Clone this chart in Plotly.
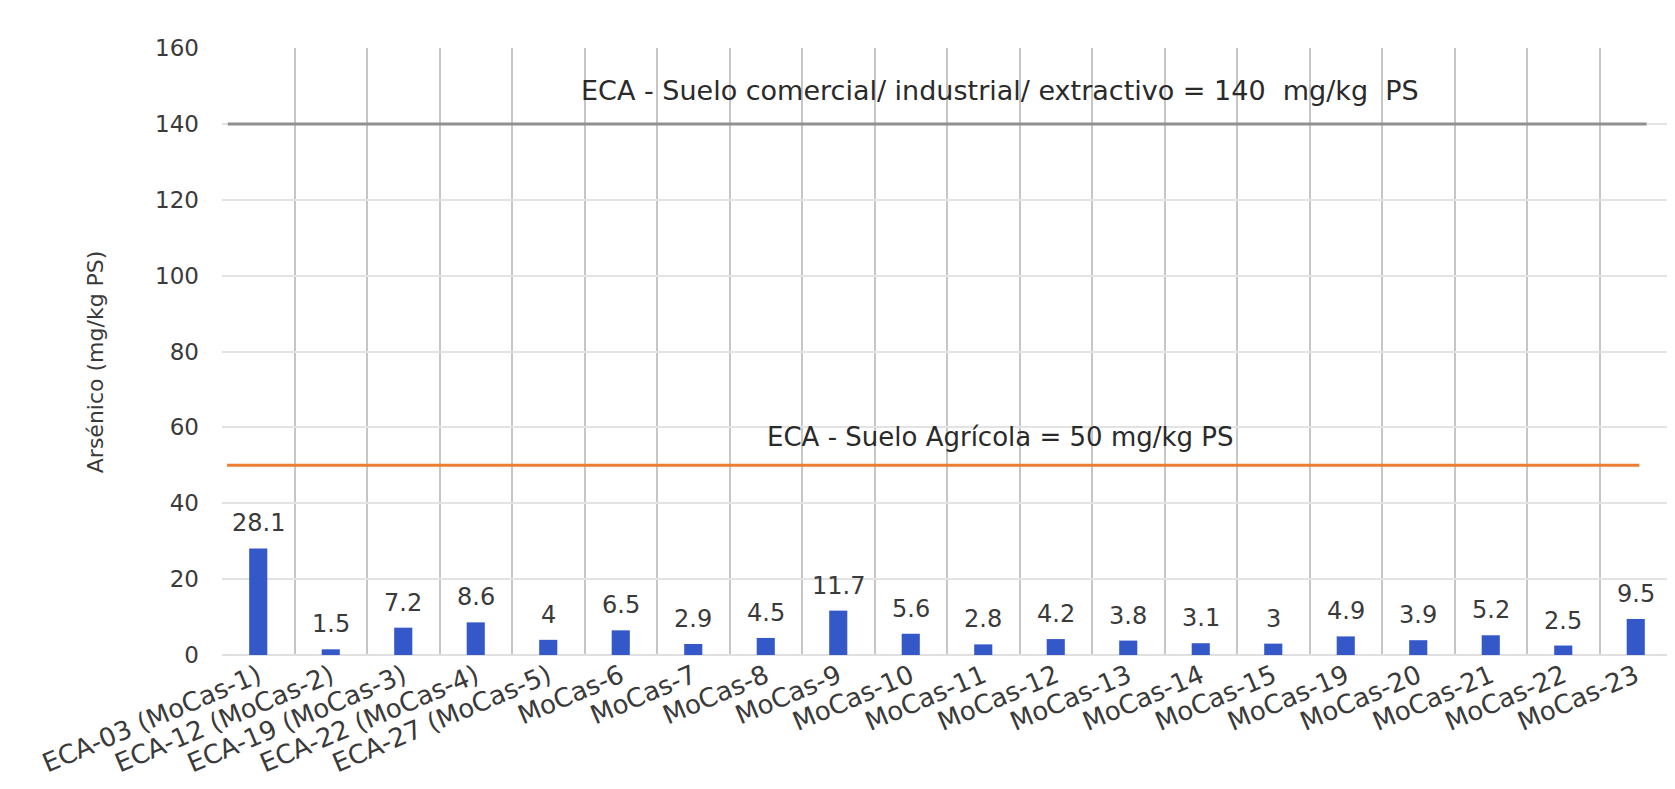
import plotly.graph_objects as go

# muestras y concentraciones de arsénico (mg/kg PS)
muestras = ['ECA-03 (MoCas-1)', 'ECA-12 (MoCas-2)', 'ECA-19 (MoCas-3)', 'ECA-22 (MoCas-4)',
            'ECA-27 (MoCas-5)', 'MoCas-6', 'MoCas-7', 'MoCas-8', 'MoCas-9', 'MoCas-10',
            'MoCas-11', 'MoCas-12', 'MoCas-13', 'MoCas-14', 'MoCas-15', 'MoCas-19',
            'MoCas-20', 'MoCas-21', 'MoCas-22', 'MoCas-23']
arsenico = [28.1, 1.5, 7.2, 8.6, 4, 6.5, 2.9, 4.5, 11.7, 5.6,
            2.8, 4.2, 3.8, 3.1, 3, 4.9, 3.9, 5.2, 2.5, 9.5]

# estandares de calidad ambiental
eca_valores = [140, 50]
eca_textos = ['ECA - Suelo comercial/ industrial/ extractivo = 140\u00a0 mg/kg\u00a0 PS',
              'ECA - Suelo Agrícola = 50 mg/kg PS']
eca_colores = ['#8f8f8f', '#ED7D31']

y_ticks = [0, 20, 40, 60, 80, 100, 120, 140, 160]

FONT = 'DejaVu Sans'
GRIS = '#3a3a3a'

fig = go.Figure()
fig.add_trace(go.Bar(x=muestras, y=arsenico, width=0.25,
                     marker=dict(color='#3558C8', line=dict(width=0)),
                     showlegend=False))

# etiquetas de datos
for m, v in zip(muestras, arsenico):
    fig.add_annotation(x=m, y=v, text=f'{v:g}', showarrow=False,
                       yanchor='bottom', yshift=9,
                       font=dict(family=FONT, size=24, color=GRIS))

# lineas de los ECA
desde = [-0.42, -0.43]
hasta = [19.15, 19.05]
desplaz = [33, 28]
tam = [27, 26]
for val, txt, col, x0, x1, dy, t in zip(eca_valores, eca_textos, eca_colores, desde, hasta, desplaz, tam):
    fig.add_shape(type='line', xref='x', yref='y', x0=x0, x1=x1, y0=val, y1=val,
                  line=dict(color=col, width=3))
    fig.add_annotation(xref='paper', x=0.5366, y=val, text=txt, showarrow=False,
                       xanchor='center', yanchor='middle', yshift=dy,
                       font=dict(family=FONT, size=t, color='#2a2a2a'))

# titulo eje y
fig.add_annotation(xref='paper', yref='paper', x=-0.0876, y=0.484,
                   text='Arsénico (mg/kg PS)', textangle=-90, showarrow=False,
                   xanchor='center', yanchor='middle',
                   font=dict(family=FONT, size=22, color=GRIS))

fig.update_xaxes(tickson='boundaries', showgrid=True, gridcolor='#c6c6c6', gridwidth=1.5,
                 tickangle=-23, ticks='', showline=False, automargin=False,
                 tickfont=dict(family=FONT, size=26, color=GRIS))
fig.update_yaxes(range=[0, 160], tickvals=y_ticks, showgrid=True, gridcolor='#e3e3e3',
                 gridwidth=1.5, zeroline=True, zerolinecolor='#e0e0e0', zerolinewidth=1.5,
                 ticks='', ticklabelstandoff=22, showline=False, automargin=False,
                 tickfont=dict(family=FONT, size=23, color=GRIS))

# la pagina deja 8 px de margen, se descuentan aqui
fig.update_layout(width=1667, height=781, plot_bgcolor='white', paper_bgcolor='white',
                  margin=dict(l=214, r=3, t=40, b=134), bargap=0.75)

fig.write_html('out.html')
